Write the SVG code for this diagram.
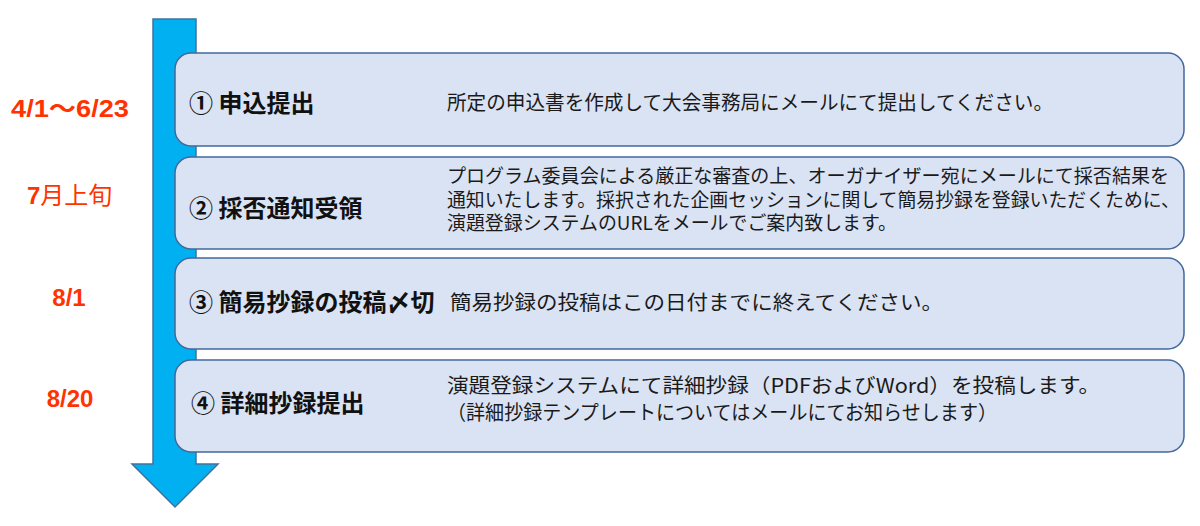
<svg xmlns="http://www.w3.org/2000/svg" width="1200" height="526" viewBox="0 0 1200 526">
<style>
.box{fill:#dae3f3;stroke:#41689c;stroke-width:1.5}
.title{font-family:"Noto Sans CJK JP","Noto Sans",sans-serif;font-weight:700;font-size:24px;fill:#111}
.desc{font-family:"Noto Sans CJK JP","Noto Sans",sans-serif;font-weight:400;font-size:20px;fill:#1a1a1a}
.desc2{font-family:"Noto Sans CJK JP","Noto Sans",sans-serif;font-weight:400;font-size:19px;fill:#1a1a1a}
.date{font-family:"Liberation Sans","Noto Sans CJK JP",sans-serif;font-weight:700;font-size:24px;fill:#ff3300}
.datej{font-family:"Noto Sans CJK JP",sans-serif;font-weight:400;font-size:24px;fill:#ff3300}
</style>
<rect width="1200" height="526" fill="#ffffff"/>
<g id="connectors">
<path d="M153,19 L196,19 L196,464 L218,464 L175,507 L132,464 L153,464 Z" fill="#00b0f0" stroke="#41719c" stroke-width="1.5"/>
</g>
<g id="dates">
<text class="date" x="70" y="117" text-anchor="middle" textLength="118" lengthAdjust="spacingAndGlyphs">4/1〜6/23</text>
<text x="27" y="204"><tspan class="date">7</tspan><tspan class="datej">月上旬</tspan></text>
<text class="date" x="69" y="306" text-anchor="middle">8/1</text>
<text class="date" x="70" y="407" text-anchor="middle">8/20</text>
</g>
<g id="node1">
<rect class="box" x="175" y="53" width="1009" height="93" rx="16"/>
<text class="title" x="189" y="112">① 申込提出</text>
<text class="desc" x="447" y="110" textLength="606" lengthAdjust="spacingAndGlyphs">所定の申込書を作成して大会事務局にメールにて提出してください。</text>
</g>
<g id="node2">
<rect class="box" x="175" y="157" width="1009" height="92" rx="16"/>
<text class="title" x="189" y="217">② 採否通知受領</text>
<text class="desc2" x="447" y="183" textLength="722" lengthAdjust="spacingAndGlyphs">プログラム委員会による厳正な審査の上、オーガナイザー宛にメールにて採否結果を</text>
<text class="desc2" x="447" y="207" textLength="733" lengthAdjust="spacingAndGlyphs">通知いたします。採択された企画セッションに関して簡易抄録を登録いただくために、</text>
<text class="desc2" x="447" y="230" textLength="450" lengthAdjust="spacingAndGlyphs">演題登録システムのURLをメールでご案内致します。</text>
</g>
<g id="node3">
<rect class="box" x="175" y="258" width="1009" height="91" rx="16"/>
<text class="title" x="189" y="311">③ 簡易抄録の投稿〆切</text>
<text class="desc" x="450" y="310" textLength="493" lengthAdjust="spacingAndGlyphs">簡易抄録の投稿はこの日付までに終えてください。</text>
</g>
<g id="node4">
<rect class="box" x="175" y="360" width="1009" height="92" rx="16"/>
<text class="title" x="191" y="412">④ 詳細抄録提出</text>
<text class="desc" x="447" y="393" textLength="653" lengthAdjust="spacingAndGlyphs">演題登録システムにて詳細抄録（PDFおよびWord）を投稿します。</text>
<text class="desc" x="447" y="420" textLength="550" lengthAdjust="spacingAndGlyphs">（詳細抄録テンプレートについてはメールにてお知らせします）</text>
</g>
</svg>
